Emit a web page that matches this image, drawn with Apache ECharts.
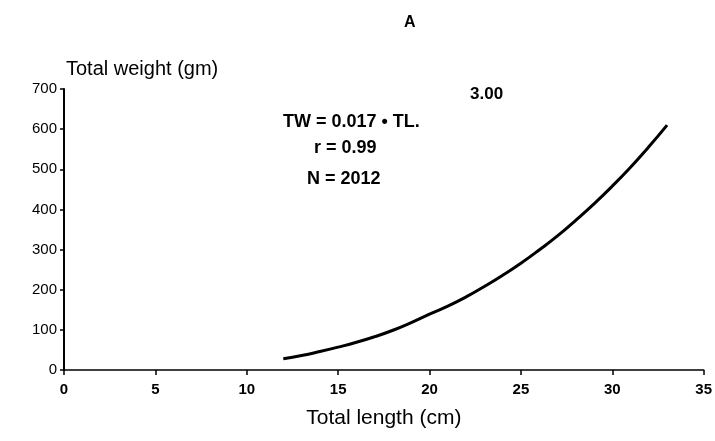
<!DOCTYPE html>
<html>
<head>
<meta charset="utf-8">
<script src="https://cdn.jsdelivr.net/npm/echarts@6/dist/echarts.min.js"></script>
<style>html,body{margin:0;padding:0;background:#fff}#c{width:715px;height:441px}</style>
</head>
<body>
<div id="c"></div>
<script>
var lengths = [12, 13, 14, 15, 16, 17, 18, 19, 20, 21, 22, 23, 24, 25, 26, 27, 28, 29, 30, 31, 32, 33];
var weights = [28, 36, 46, 57, 69, 83, 99, 118, 139, 159, 182, 208, 236, 266, 299, 334, 373, 414, 458, 505, 556, 610];
var xTicks = [0, 5, 10, 15, 20, 25, 30, 35];
var yTicks = [0, 100, 200, 300, 400, 500, 600, 700];
var panelLabel = 'A';
var equationLines = ['TW = 0.017 \u2022 TL.', 'r = 0.99', 'N = 2012'];
var exponentText = '3.00';

var font = '"Liberation Sans", Arial, sans-serif';
var chart = echarts.init(document.getElementById('c'));
var data = lengths.map(function (x, i) { return [x, weights[i]]; });

chart.setOption({
  animation: false,
  backgroundColor: '#fff',
  title: {
    text: panelLabel, left: 399, top: 10,
    textStyle: { fontFamily: font, fontSize: 16, fontWeight: 'bold', color: '#000' }
  },
  grid: { left: 64, right: 11, top: 89, bottom: 71 },
  xAxis: {
    type: 'value', min: 0, max: 35, interval: 5,
    name: 'Total length (cm)', nameLocation: 'middle', nameGap: 38,
    nameTextStyle: { fontFamily: font, fontSize: 21, color: '#000' },
    axisLine: { lineStyle: { color: '#000', width: 1.5 } },
    axisTick: { inside: false, length: 5, lineStyle: { color: '#000', width: 1.5 } },
    axisLabel: { fontFamily: font, fontSize: 15, fontWeight: 'bold', color: '#000', margin: 12 },
    splitLine: { show: false }
  },
  yAxis: {
    type: 'value', min: 0, max: 700, interval: 100,
    axisLine: { show: true, lineStyle: { color: '#000', width: 2 } },
    axisTick: { show: true, length: 4, lineStyle: { color: '#000', width: 1.5 } },
    axisLabel: { fontFamily: font, fontSize: 15, color: '#000', margin: 7 },
    splitLine: { show: false }
  },
  graphic: [
    { type: 'text', left: 66, top: 59, style: { text: 'Total weight (gm)', font: '20px ' + font, fill: '#000' } },
    { type: 'text', left: 470, top: 86, style: { text: exponentText, font: 'bold 17px ' + font, fill: '#000' } },
    { type: 'text', left: 283, top: 113, style: { text: equationLines[0], font: 'bold 18px ' + font, fill: '#000' } },
    { type: 'text', left: 314, top: 139, style: { text: equationLines[1], font: 'bold 18px ' + font, fill: '#000' } },
    { type: 'text', left: 307, top: 170, style: { text: equationLines[2], font: 'bold 18px ' + font, fill: '#000' } }
  ],
  series: [{
    type: 'line', data: data, smooth: true, showSymbol: false,
    lineStyle: { color: '#000', width: 3 }
  }]
});
</script>
</body>
</html>
